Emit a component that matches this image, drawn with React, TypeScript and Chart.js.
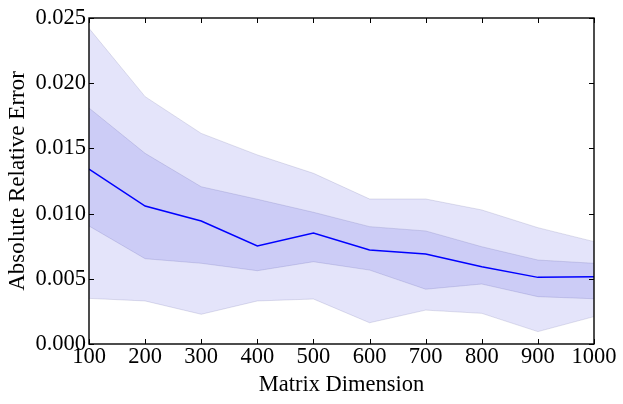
import React, { useEffect, useRef } from "react";
import { Chart, registerables } from "chart.js";

Chart.register(...registerables);

const dims = [100, 200, 300, 400, 500, 600, 700, 800, 900, 1000];
const median = [0.01342, 0.01058, 0.00943, 0.00752, 0.00851, 0.00721, 0.0069, 0.00593, 0.00511, 0.00516];
const innerUpper = [0.0181, 0.01462, 0.01206, 0.0111, 0.0101, 0.009, 0.00867, 0.00746, 0.00644, 0.00619];
const innerLower = [0.00905, 0.00654, 0.00619, 0.00562, 0.00631, 0.00567, 0.0042, 0.0046, 0.00363, 0.00347];
const outerUpper = [0.02421, 0.01897, 0.01615, 0.0145, 0.01309, 0.01112, 0.01112, 0.01028, 0.00892, 0.00785];
const outerLower = [0.0035, 0.0033, 0.00228, 0.0033, 0.00345, 0.00163, 0.0026, 0.00235, 0.00095, 0.0021];
const yTicks = [0, 0.005, 0.01, 0.015, 0.02, 0.025];

const FONT = "'Liberation Serif', 'Times New Roman', serif";
const BAND_FILL = "rgba(10,10,210,0.11)";
const BAND_EDGE = "rgba(90,90,150,0.18)";

const pts = (arr: number[]) => arr.map((v, i) => ({ x: dims[i], y: v }));

const framePlugin = {
  id: "frameTicks",
  afterDraw(chart: any) {
    const { ctx, chartArea: a, scales } = chart;
    const xs = scales.x;
    const ys = scales.y;
    const len = 5;
    ctx.save();
    ctx.strokeStyle = "#000";
    ctx.lineWidth = 1;
    ctx.beginPath();
    dims.forEach((d) => {
      const px = Math.round(xs.getPixelForValue(d)) + 0.5;
      ctx.moveTo(px, a.bottom);
      ctx.lineTo(px, a.bottom - len);
      ctx.moveTo(px, a.top);
      ctx.lineTo(px, a.top + len);
    });
    yTicks.forEach((t) => {
      const py = Math.round(ys.getPixelForValue(t)) + 0.5;
      ctx.moveTo(a.left, py);
      ctx.lineTo(a.left + len, py);
      ctx.moveTo(a.right, py);
      ctx.lineTo(a.right - len, py);
    });
    ctx.stroke();
    ctx.lineWidth = 1.4;
    ctx.strokeRect(a.left, a.top, a.right - a.left, a.bottom - a.top);
    ctx.restore();
  },
};

export default function App() {
  const ref = useRef<HTMLCanvasElement>(null);
  useEffect(() => {
    document.body.style.margin = "0";
    if (!ref.current) return;
    const chart = new Chart(ref.current, {
      type: "line",
      data: {
        datasets: [
          {
            label: "median",
            data: pts(median),
            borderColor: "#0000ff",
            borderWidth: 1.5,
            pointRadius: 0,
            fill: false,
            tension: 0,
          },
          {
            label: "outerUpper",
            data: pts(outerUpper),
            borderColor: BAND_EDGE,
            borderWidth: 1,
            pointRadius: 0,
            backgroundColor: BAND_FILL,
            fill: "+1",
          },
          {
            label: "outerLower",
            data: pts(outerLower),
            borderColor: BAND_EDGE,
            borderWidth: 1,
            pointRadius: 0,
            fill: false,
          },
          {
            label: "innerUpper",
            data: pts(innerUpper),
            borderColor: BAND_EDGE,
            borderWidth: 1,
            pointRadius: 0,
            backgroundColor: BAND_FILL,
            fill: "+1",
          },
          {
            label: "innerLower",
            data: pts(innerLower),
            borderColor: BAND_EDGE,
            borderWidth: 1,
            pointRadius: 0,
            fill: false,
          },
        ],
      },
      options: {
        animation: false,
        responsive: true,
        maintainAspectRatio: false,
        layout: { padding: { top: 18, right: 29, bottom: 0, left: 0 } },
        plugins: {
          legend: { display: false },
          tooltip: { enabled: false },
        },
        scales: {
          x: {
            type: "linear",
            min: 100,
            max: 1000,
            grid: { display: false, drawTicks: false },
            border: { display: false },
            ticks: {
              stepSize: 100,
              color: "#000",
              padding: 0,
              maxRotation: 0,
              font: { family: FONT, size: 22.5 },
              callback: (v: any) => String(v),
            },
            title: {
              display: true,
              text: "Matrix Dimension",
              color: "#000",
              font: { family: FONT, size: 22.5 },
              padding: { top: 0, bottom: 5 },
            },
            afterFit: (s: any) => {
              s.height = 60;
            },
          },
          y: {
            min: 0,
            max: 0.025,
            grid: { display: false, drawTicks: false },
            border: { display: false },
            ticks: {
              stepSize: 0.005,
              color: "#000",
              padding: 3,
              font: { family: FONT, size: 22.5 },
              callback: (v: any) => Number(v).toFixed(3),
            },
            title: {
              display: true,
              text: "Absolute Relative Error",
              color: "#000",
              font: { family: FONT, size: 23 },
              padding: { top: 4, bottom: 0 },
            },
            afterFit: (s: any) => {
              s.width = 89;
            },
          },
        },
      },
      plugins: [framePlugin],
    });
    return () => chart.destroy();
  }, []);
  return (
    <div style={{ position: "relative", width: 623, height: 404 }}>
      <canvas ref={ref} />
    </div>
  );
}
